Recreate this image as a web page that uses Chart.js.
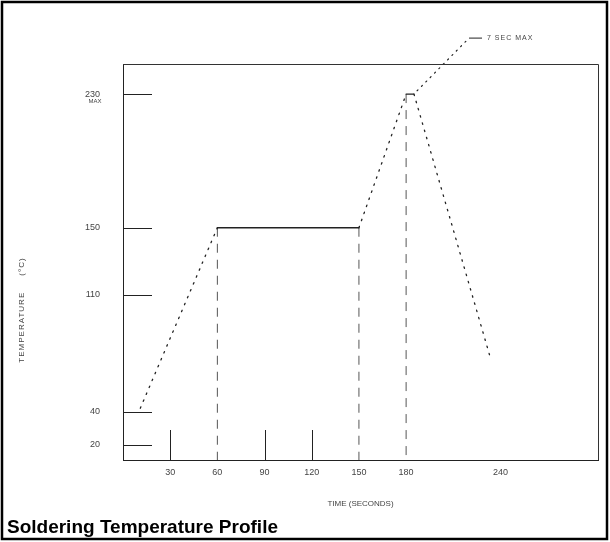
<!DOCTYPE html>
<html>
<head>
<meta charset="utf-8">
<script src="https://cdn.jsdelivr.net/npm/chart.js@4.4.1/dist/chart.umd.min.js"></script>
<style>
  html, body { margin: 0; padding: 0; background: #fff; }
  #wrap { width: 610px; height: 542px; }
</style>
</head>
<body>
<div id="wrap"><canvas id="chart" width="610" height="542"></canvas></div>
<script>
// axis ticks: time in seconds, temperature in deg C
const timeTicks = [30, 60, 90, 120, 150, 180, 240];
const tempTicks = [20, 40, 110, 150, 230];
const innerTimeTicks = [30, 90, 120];

// reflow profile
const profileTime = [11, 60, 150, 180, 185, 233];
const profileTemp = [42, 150, 150, 230, 230, 74];

// dashed markers dropped down to the time axis
const markerTime = [60, 150, 180];
const markerTemp = [150, 150, 230];

// leader to the "7 SEC MAX" note
const leaderTime = [187, 220];
const leaderTemp = [232, 263.5];
const leaderText = '7 SEC MAX';

const TIME_MIN = 0, TIME_MAX = 302;
const TEMP_MIN = 11, TEMP_MAX = 248;

const ink = '#222';
const faint = '#555';
const dotted = [1.5, 6];

const pts = (xs, ys) => xs.map((x, i) => ({ x: x, y: ys[i] }));

const datasets = [
    {
        data: pts(profileTime, profileTemp),
        borderColor: ink,
        borderWidth: 1.3,
        borderCapStyle: 'round',
        pointRadius: 0,
        segment: {
            borderDash: (ctx) => ctx.p0.parsed.y === ctx.p1.parsed.y ? [] : dotted,
        },
    },
    ...markerTime.map((t, i) => ({
        data: [{ x: t, y: markerTemp[i] }, { x: t, y: TEMP_MIN }],
        borderColor: faint,
        borderWidth: 1,
        borderDash: [9, 7],
        pointRadius: 0,
    })),
    {
        data: pts(leaderTime, leaderTemp),
        borderColor: ink,
        borderWidth: 1.2,
        borderCapStyle: 'round',
        borderDash: [1.2, 5],
        pointRadius: 0,
        clip: false,
    },
];

// frame, inward ticks and the loose texts of the drawing
const decorations = {
    id: 'decorations',
    afterDraw(chart) {
        const { ctx, chartArea: a, scales } = chart;
        const x = scales.x, y = scales.y;
        ctx.save();

        // outer frame
        ctx.strokeStyle = '#000';
        ctx.lineWidth = 2.5;
        ctx.strokeRect(2, 2, 605, 537);

        // top and right side of the plot box
        ctx.strokeStyle = '#333';
        ctx.lineWidth = 1;
        ctx.beginPath();
        ctx.moveTo(a.left, a.top + 0.5);
        ctx.lineTo(a.right + 0.5, a.top + 0.5);
        ctx.lineTo(a.right + 0.5, a.bottom);
        ctx.stroke();

        // inward tick marks
        ctx.strokeStyle = ink;
        ctx.beginPath();
        tempTicks.forEach((v) => {
            const py = Math.round(y.getPixelForValue(v)) + 0.5;
            ctx.moveTo(a.left, py);
            ctx.lineTo(a.left + 29, py);
        });
        innerTimeTicks.forEach((v) => {
            const px = Math.round(x.getPixelForValue(v)) + 0.5;
            ctx.moveTo(px, a.bottom);
            ctx.lineTo(px, a.bottom - 30);
        });
        ctx.stroke();

        // note at the peak
        const lx = x.getPixelForValue(leaderTime[1]);
        const ly = y.getPixelForValue(leaderTemp[1]);
        ctx.beginPath();
        ctx.moveTo(lx, ly);
        ctx.lineTo(lx + 13, ly);
        ctx.stroke();
        ctx.fillStyle = '#444';
        ctx.font = '7px "Liberation Sans"';
        ctx.letterSpacing = '1px';
        ctx.textBaseline = 'middle';
        ctx.textAlign = 'left';
        ctx.fillText(leaderText, lx + 18, ly);

        // MAX under the 230 label
        ctx.font = '6px "Liberation Sans"';
        ctx.letterSpacing = '0px';
        ctx.textAlign = 'center';
        ctx.fillText('MAX', 95, y.getPixelForValue(230) + 7);

        // temperature axis title
        ctx.save();
        ctx.translate(22, 310);
        ctx.rotate(-Math.PI / 2);
        ctx.font = '8px "Liberation Sans"';
        ctx.letterSpacing = '1px';
        ctx.fillText('TEMPERATURE     (°C)', 0, 0);
        ctx.restore();

        // caption
        ctx.fillStyle = '#000';
        ctx.font = 'bold 19px "Liberation Sans"';
        ctx.letterSpacing = '0px';
        ctx.textAlign = 'left';
        ctx.textBaseline = 'alphabetic';
        ctx.fillText('Soldering Temperature Profile', 7, 533);

        ctx.restore();
    }
};

new Chart(document.getElementById('chart'), {
    type: 'line',
    data: { datasets: datasets },
    plugins: [decorations],
    options: {
        responsive: false,
        animation: false,
        events: [],
        layout: { padding: { left: 0, top: 64, right: 12, bottom: 0 } },
        plugins: { legend: { display: false }, tooltip: { enabled: false } },
        scales: {
            x: {
                type: 'linear',
                min: TIME_MIN,
                max: TIME_MAX,
                afterBuildTicks: (s) => { s.ticks = timeTicks.map((v) => ({ value: v })); },
                afterFit: (s) => { s.height = 82; },
                grid: { drawOnChartArea: false, drawTicks: false },
                border: { color: ink, width: 1 },
                ticks: {
                    color: '#444',
                    padding: 7,
                    maxRotation: 0,
                    autoSkip: false,
                    font: { family: 'Liberation Sans', size: 9 },
                },
                title: {
                    display: true,
                    text: 'TIME (SECONDS)',
                    color: '#444',
                    font: { family: 'Liberation Sans', size: 8 },
                    padding: { top: 0, bottom: 33 },
                },
            },
            y: {
                type: 'linear',
                min: TEMP_MIN,
                max: TEMP_MAX,
                afterBuildTicks: (s) => { s.ticks = tempTicks.map((v) => ({ value: v })); },
                afterFit: (s) => { s.width = 123; },
                grid: { drawOnChartArea: false, drawTicks: false },
                border: { color: ink, width: 1 },
                ticks: {
                    color: '#444',
                    padding: 23,
                    autoSkip: false,
                    font: { family: 'Liberation Sans', size: 9 },
                },
            },
        },
    },
});
</script>
</body>
</html>
